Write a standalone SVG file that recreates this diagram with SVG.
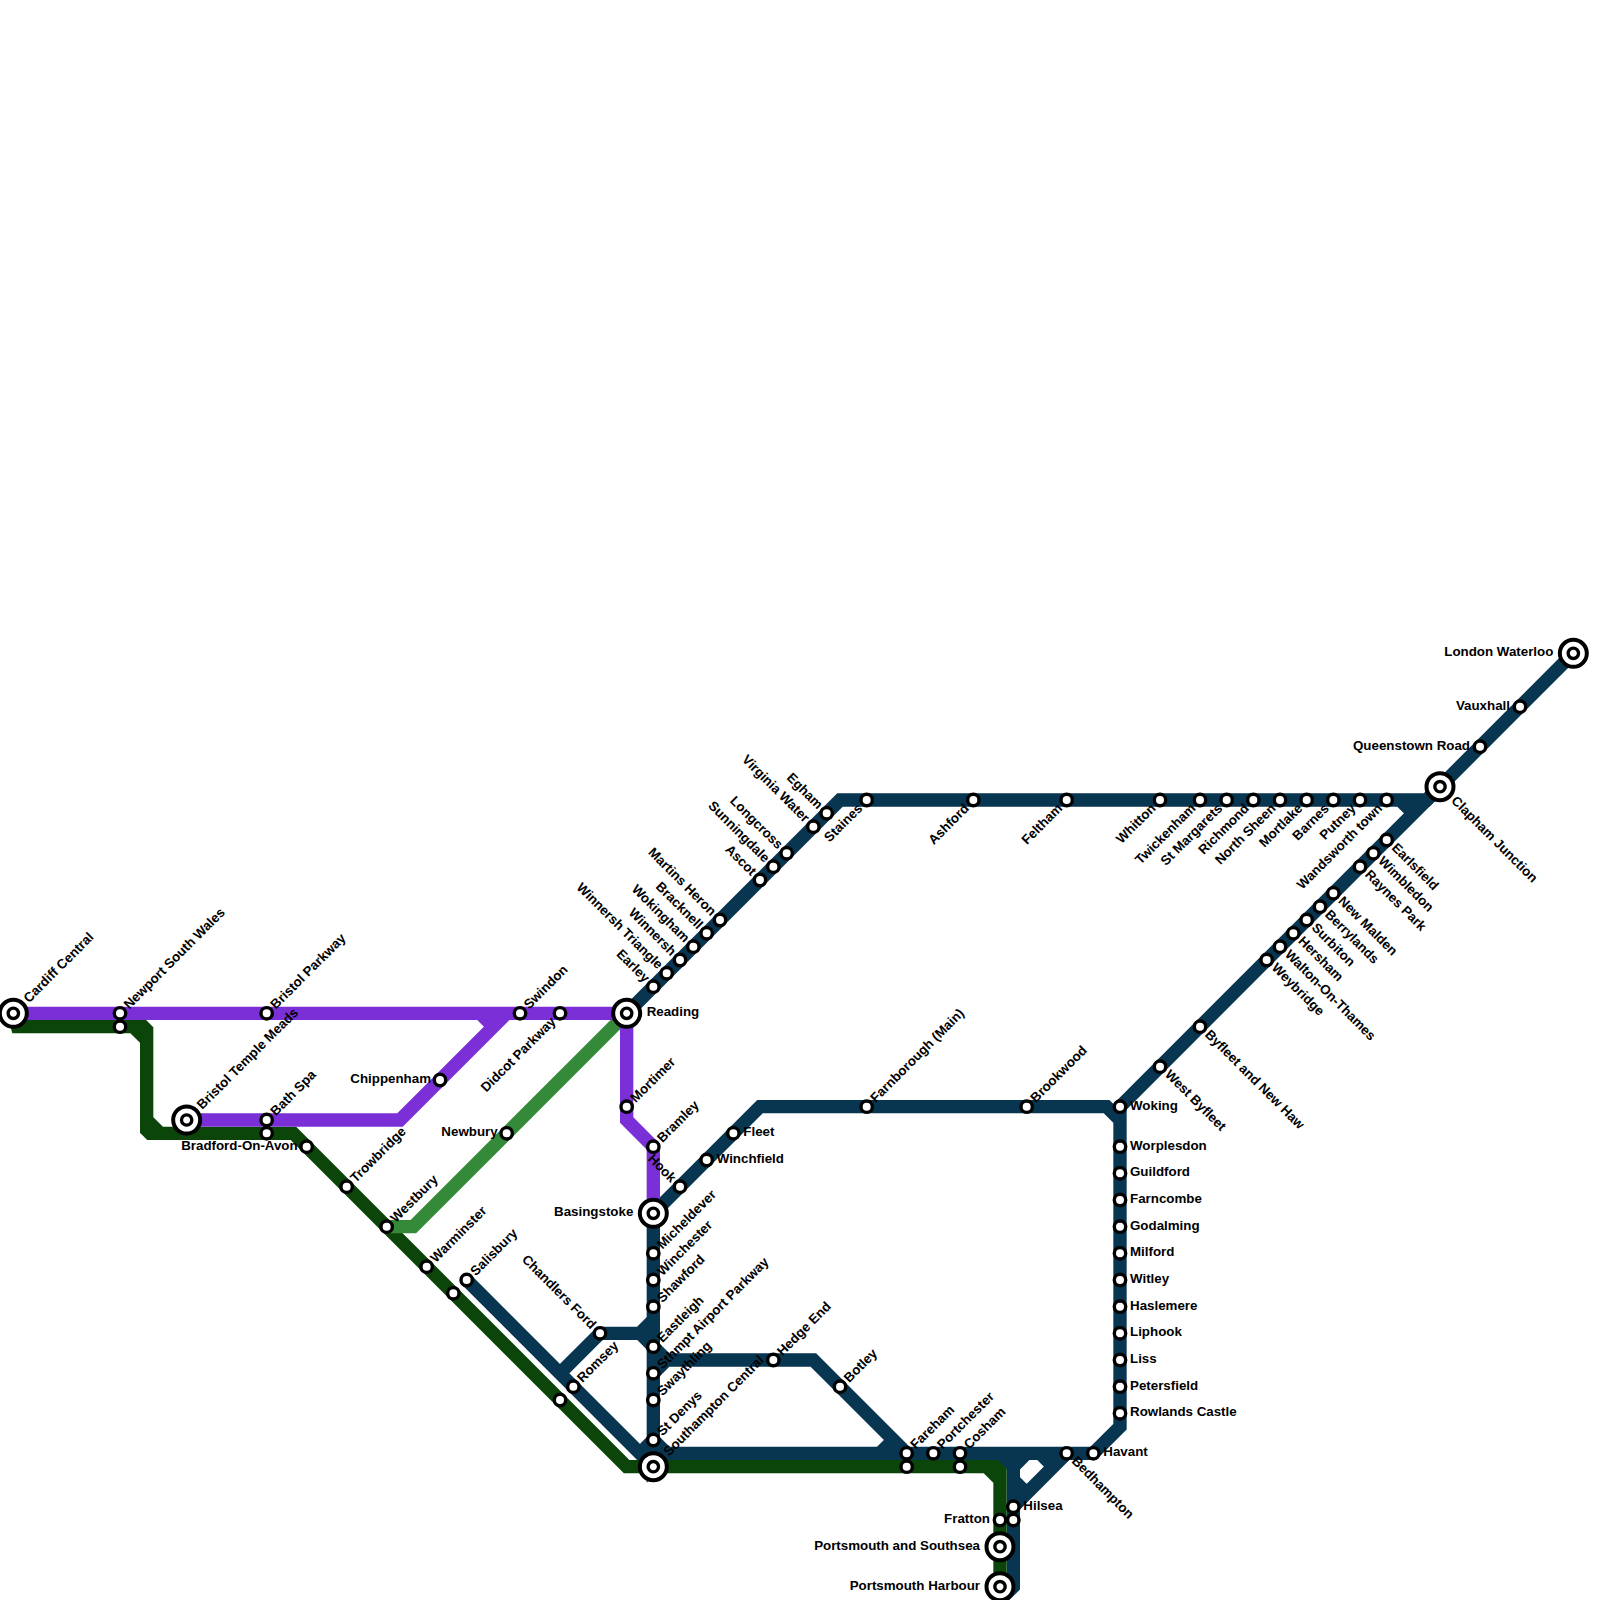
<svg xmlns="http://www.w3.org/2000/svg" width="1600" height="1600" viewBox="0 0 1600 1600">
<style>
.ln{fill:none;stroke-width:1;stroke-linejoin:miter;stroke-linecap:butt}
.navy{stroke:#08354f}.pur{stroke:#7b2fd6}.dg{stroke:#0b4509}.lg{stroke:#358a39}
.s{fill:#fff;stroke:#000;stroke-width:3.4}
.o{fill:#fff;stroke:#000;stroke-width:4}
.i{fill:#fff;stroke:#000;stroke-width:3.33}
text{font-family:"Liberation Sans",Arial,sans-serif;font-weight:bold;font-size:13.33px;fill:#000}
.e{text-anchor:end}
</style>
<defs>
<g id="st"><circle class="s" r="5.7"/></g>
<g id="ic"><circle class="o" r="13.5"/><circle class="i" r="5.2"/></g>
</defs>
<rect width="1600" height="1600" fill="#fff"/>
<g id="connectors" transform="scale(13.33333)">
<path class="ln navy" d="M118 49L84 83V107L82 109H50L49 110V91L57 83H83L84 84"/>
<path class="ln navy" d="M108 59L107 60H63L47 76M105 60L106 61"/>
<path class="ln navy" d="M35 96L49 110M42 103L45 100H48L49 99M48 100L49 101L50 102H61L68 109M49 103L50 102M48 109L49 108L50 109M66 109L67 108"/>
<path class="ln navy" d="M75 109L76 110V119L75 120M76 113L80 109M76 110L77 109M78 109L79 110M76 111L77 112"/>
<path class="ln dg" d="M1 76L1.3 77H10.75L11 77.25V84.75L11.25 85H22L47 110H74.64L75 110.36V119M10 77L11 78M11 84L12 85M74 110L75 111"/>
<path class="ln lg" d="M29 92H31L47 76"/>
<path class="ln pur" d="M1 76H47V84L49 86V91M14 84H30L38 76M36 76L37 77"/>
</g>
<g id="stations">
<g id="n01" transform="translate(13.33 1013.33)"><use href="#ic"/><text transform="rotate(-45)" x="18" y="4">Cardiff Central</text></g>
<g id="n02" transform="translate(120 1013.33)"><use href="#st"/><text transform="rotate(-45)" x="9" y="4">Newport South Wales</text></g>
<g id="n03" transform="translate(120 1026.67)"><use href="#st"/></g>
<g id="n04" transform="translate(266.67 1013.33)"><use href="#st"/><text transform="rotate(-45)" x="9" y="4">Bristol Parkway</text></g>
<g id="n05" transform="translate(186.67 1120)"><use href="#ic"/><text transform="rotate(-45)" x="18" y="4">Bristol Temple Meads</text></g>
<g id="n06" transform="translate(266.67 1120)"><use href="#st"/><text transform="rotate(-45)" x="9" y="4">Bath Spa</text></g>
<g id="n07" transform="translate(266.67 1133.33)"><use href="#st"/></g>
<g id="n08" transform="translate(306.67 1146.67)"><use href="#st"/><text class="e" x="-9" y="3">Bradford-On-Avon</text></g>
<g id="n09" transform="translate(346.67 1186.67)"><use href="#st"/><text transform="rotate(-45)" x="9" y="4">Trowbridge</text></g>
<g id="n10" transform="translate(386.67 1226.67)"><use href="#st"/><text transform="rotate(-45)" x="9" y="4">Westbury</text></g>
<g id="n11" transform="translate(426.67 1266.67)"><use href="#st"/><text transform="rotate(-45)" x="9" y="4">Warminster</text></g>
<g id="n12" transform="translate(453.33 1293.33)"><use href="#st"/></g>
<g id="n13" transform="translate(466.67 1280)"><use href="#st"/><text transform="rotate(-45)" x="9" y="4">Salisbury</text></g>
<g id="n14" transform="translate(440 1080)"><use href="#st"/><text class="e" x="-9" y="3">Chippenham</text></g>
<g id="n15" transform="translate(506.67 1133.33)"><use href="#st"/><text class="e" x="-9" y="3">Newbury</text></g>
<g id="n16" transform="translate(520 1013.33)"><use href="#st"/><text transform="rotate(-45)" x="9" y="4">Swindon</text></g>
<g id="n17" transform="translate(560 1013.33)"><use href="#st"/><text class="e" transform="rotate(-45)" x="-9" y="4">Didcot Parkway</text></g>
<g id="n18" transform="translate(626.67 1013.33)"><use href="#ic"/><text x="20" y="3">Reading</text></g>
<g id="n19" transform="translate(626.67 1106.67)"><use href="#st"/><text transform="rotate(-45)" x="9" y="4">Mortimer</text></g>
<g id="n20" transform="translate(653.33 1146.67)"><use href="#st"/><text transform="rotate(-45)" x="9" y="4">Bramley</text></g>
<g id="n21" transform="translate(680 1186.67)"><use href="#st"/><text class="e" transform="rotate(45)" x="-9" y="4">Hook</text></g>
<g id="n22" transform="translate(706.67 1160)"><use href="#st"/><text x="10" y="3">Winchfield</text></g>
<g id="n23" transform="translate(733.33 1133.33)"><use href="#st"/><text x="10" y="3">Fleet</text></g>
<g id="n24" transform="translate(653.33 1213.33)"><use href="#ic"/><text class="e" x="-20" y="3">Basingstoke</text></g>
<g id="n25" transform="translate(653.33 1253.33)"><use href="#st"/><text transform="rotate(-45)" x="9" y="4">Micheldever</text></g>
<g id="n26" transform="translate(653.33 1280)"><use href="#st"/><text transform="rotate(-45)" x="9" y="4">Winchester</text></g>
<g id="n27" transform="translate(653.33 1306.67)"><use href="#st"/><text transform="rotate(-45)" x="9" y="4">Shawford</text></g>
<g id="n28" transform="translate(653.33 1346.67)"><use href="#st"/><text transform="rotate(-45)" x="9" y="4">Eastleigh</text></g>
<g id="n29" transform="translate(653.33 1373.33)"><use href="#st"/><text transform="rotate(-45)" x="9" y="4">Sthmpt Airport Parkway</text></g>
<g id="n30" transform="translate(653.33 1400)"><use href="#st"/><text transform="rotate(-45)" x="9" y="4">Swaythling</text></g>
<g id="n31" transform="translate(653.33 1440)"><use href="#st"/><text transform="rotate(-45)" x="9" y="4">St Denys</text></g>
<g id="n32" transform="translate(653.33 1466.67)"><use href="#ic"/><text transform="rotate(-45)" x="18" y="4">Southampton Central</text></g>
<g id="n33" transform="translate(600 1333.33)"><use href="#st"/><text class="e" transform="rotate(45)" x="-9" y="4">Chandlers Ford</text></g>
<g id="n34" transform="translate(573.33 1386.67)"><use href="#st"/><text transform="rotate(-45)" x="9" y="4">Romsey</text></g>
<g id="n35" transform="translate(560 1400)"><use href="#st"/></g>
<g id="n36" transform="translate(773.33 1360)"><use href="#st"/><text transform="rotate(-45)" x="9" y="4">Hedge End</text></g>
<g id="n37" transform="translate(840 1386.67)"><use href="#st"/><text transform="rotate(-45)" x="9" y="4">Botley</text></g>
<g id="n38" transform="translate(906.67 1453.33)"><use href="#st"/><text transform="rotate(-45)" x="9" y="4">Fareham</text></g>
<g id="n39" transform="translate(906.67 1466.67)"><use href="#st"/></g>
<g id="n40" transform="translate(933.33 1453.33)"><use href="#st"/><text transform="rotate(-45)" x="9" y="4">Portchester</text></g>
<g id="n41" transform="translate(960 1453.33)"><use href="#st"/><text transform="rotate(-45)" x="9" y="4">Cosham</text></g>
<g id="n42" transform="translate(960 1466.67)"><use href="#st"/></g>
<g id="n43" transform="translate(1066.67 1453.33)"><use href="#st"/><text transform="rotate(45)" x="9" y="3">Bedhampton</text></g>
<g id="n44" transform="translate(1093.33 1453.33)"><use href="#st"/><text x="10" y="3">Havant</text></g>
<g id="n45" transform="translate(1013.33 1506.67)"><use href="#st"/><text x="10" y="3">Hilsea</text></g>
<g id="n46" transform="translate(1013.33 1520)"><use href="#st"/></g>
<g id="n47" transform="translate(1000 1520)"><use href="#st"/><text class="e" x="-10" y="3">Fratton</text></g>
<g id="n48" transform="translate(1000 1546.67)"><use href="#ic"/><text class="e" x="-20" y="3">Portsmouth and Southsea</text></g>
<g id="n49" transform="translate(1000 1586.67)"><use href="#ic"/><text class="e" x="-20" y="3">Portsmouth Harbour</text></g>
<g id="n50" transform="translate(1120 1413.33)"><use href="#st"/><text x="10" y="3">Rowlands Castle</text></g>
<g id="n51" transform="translate(1120 1386.67)"><use href="#st"/><text x="10" y="3">Petersfield</text></g>
<g id="n52" transform="translate(1120 1360)"><use href="#st"/><text x="10" y="3">Liss</text></g>
<g id="n53" transform="translate(1120 1333.33)"><use href="#st"/><text x="10" y="3">Liphook</text></g>
<g id="n54" transform="translate(1120 1306.67)"><use href="#st"/><text x="10" y="3">Haslemere</text></g>
<g id="n55" transform="translate(1120 1280)"><use href="#st"/><text x="10" y="3">Witley</text></g>
<g id="n56" transform="translate(1120 1253.33)"><use href="#st"/><text x="10" y="3">Milford</text></g>
<g id="n57" transform="translate(1120 1226.67)"><use href="#st"/><text x="10" y="3">Godalming</text></g>
<g id="n58" transform="translate(1120 1200)"><use href="#st"/><text x="10" y="3">Farncombe</text></g>
<g id="n59" transform="translate(1120 1173.33)"><use href="#st"/><text x="10" y="3">Guildford</text></g>
<g id="n60" transform="translate(1120 1146.67)"><use href="#st"/><text x="10" y="3">Worplesdon</text></g>
<g id="n61" transform="translate(1120 1106.67)"><use href="#st"/><text x="10" y="3">Woking</text></g>
<g id="n62" transform="translate(1026.67 1106.67)"><use href="#st"/><text transform="rotate(-45)" x="9" y="4">Brookwood</text></g>
<g id="n63" transform="translate(866.67 1106.67)"><use href="#st"/><text transform="rotate(-45)" x="9" y="4">Farnborough (Main)</text></g>
<g id="n64" transform="translate(1160 1066.67)"><use href="#st"/><text transform="rotate(45)" x="9" y="3">West Byfleet</text></g>
<g id="n65" transform="translate(1200 1026.67)"><use href="#st"/><text transform="rotate(45)" x="9" y="3">Byfleet and New Haw</text></g>
<g id="n66" transform="translate(1266.67 960)"><use href="#st"/><text transform="rotate(45)" x="9" y="3">Weybridge</text></g>
<g id="n67" transform="translate(1280 946.67)"><use href="#st"/><text transform="rotate(45)" x="9" y="3">Walton-On-Thames</text></g>
<g id="n68" transform="translate(1293.33 933.33)"><use href="#st"/><text transform="rotate(45)" x="9" y="3">Hersham</text></g>
<g id="n69" transform="translate(1306.67 920)"><use href="#st"/><text transform="rotate(45)" x="9" y="3">Surbiton</text></g>
<g id="n70" transform="translate(1320 906.67)"><use href="#st"/><text transform="rotate(45)" x="9" y="3">Berrylands</text></g>
<g id="n71" transform="translate(1333.33 893.33)"><use href="#st"/><text transform="rotate(45)" x="9" y="3">New Malden</text></g>
<g id="n72" transform="translate(1360 866.67)"><use href="#st"/><text transform="rotate(45)" x="9" y="3">Raynes Park</text></g>
<g id="n73" transform="translate(1373.33 853.33)"><use href="#st"/><text transform="rotate(45)" x="9" y="3">Wimbledon</text></g>
<g id="n74" transform="translate(1386.67 840)"><use href="#st"/><text transform="rotate(45)" x="9" y="3">Earlsfield</text></g>
<g id="n75" transform="translate(1440 786.67)"><use href="#ic"/><text transform="rotate(45)" x="18" y="3">Clapham Junction</text></g>
<g id="n76" transform="translate(1480 746.67)"><use href="#st"/><text class="e" x="-10" y="3">Queenstown Road</text></g>
<g id="n77" transform="translate(1520 706.67)"><use href="#st"/><text class="e" x="-10" y="3">Vauxhall</text></g>
<g id="n78" transform="translate(1573.33 653.33)"><use href="#ic"/><text class="e" x="-20" y="3">London Waterloo</text></g>
<g id="n79" transform="translate(1386.67 800)"><use href="#st"/><text class="e" transform="rotate(-45)" x="-9" y="4">Wandsworth town</text></g>
<g id="n80" transform="translate(1360 800)"><use href="#st"/><text class="e" transform="rotate(-45)" x="-9" y="4">Putney</text></g>
<g id="n81" transform="translate(1333.33 800)"><use href="#st"/><text class="e" transform="rotate(-45)" x="-9" y="4">Barnes</text></g>
<g id="n82" transform="translate(1306.67 800)"><use href="#st"/><text class="e" transform="rotate(-45)" x="-9" y="4">Mortlake</text></g>
<g id="n83" transform="translate(1280 800)"><use href="#st"/><text class="e" transform="rotate(-45)" x="-9" y="4">North Sheen</text></g>
<g id="n84" transform="translate(1253.33 800)"><use href="#st"/><text class="e" transform="rotate(-45)" x="-9" y="4">Richmond</text></g>
<g id="n85" transform="translate(1226.67 800)"><use href="#st"/><text class="e" transform="rotate(-45)" x="-9" y="4">St Margarets</text></g>
<g id="n86" transform="translate(1200 800)"><use href="#st"/><text class="e" transform="rotate(-45)" x="-9" y="4">Twickenham</text></g>
<g id="n87" transform="translate(1160 800)"><use href="#st"/><text class="e" transform="rotate(-45)" x="-9" y="4">Whitton</text></g>
<g id="n88" transform="translate(1066.67 800)"><use href="#st"/><text class="e" transform="rotate(-45)" x="-9" y="4">Feltham</text></g>
<g id="n89" transform="translate(973.33 800)"><use href="#st"/><text class="e" transform="rotate(-45)" x="-9" y="4">Ashford</text></g>
<g id="n90" transform="translate(866.67 800)"><use href="#st"/><text class="e" transform="rotate(-45)" x="-9" y="4">Staines</text></g>
<g id="n91" transform="translate(826.67 813.33)"><use href="#st"/><text class="e" transform="rotate(45)" x="-9" y="4">Egham</text></g>
<g id="n92" transform="translate(813.33 826.67)"><use href="#st"/><text class="e" transform="rotate(45)" x="-9" y="4">Virginia Water</text></g>
<g id="n93" transform="translate(786.67 853.33)"><use href="#st"/><text class="e" transform="rotate(45)" x="-9" y="4">Longcross</text></g>
<g id="n94" transform="translate(773.33 866.67)"><use href="#st"/><text class="e" transform="rotate(45)" x="-9" y="4">Sunningdale</text></g>
<g id="n95" transform="translate(760 880)"><use href="#st"/><text class="e" transform="rotate(45)" x="-9" y="4">Ascot</text></g>
<g id="n96" transform="translate(720 920)"><use href="#st"/><text class="e" transform="rotate(45)" x="-9" y="4">Martins Heron</text></g>
<g id="n97" transform="translate(706.67 933.33)"><use href="#st"/><text class="e" transform="rotate(45)" x="-9" y="4">Bracknell</text></g>
<g id="n98" transform="translate(693.33 946.67)"><use href="#st"/><text class="e" transform="rotate(45)" x="-9" y="4">Wokingham</text></g>
<g id="n99" transform="translate(680 960)"><use href="#st"/><text class="e" transform="rotate(45)" x="-9" y="4">Winnersh</text></g>
<g id="n100" transform="translate(666.67 973.33)"><use href="#st"/><text class="e" transform="rotate(45)" x="-9" y="4">Winnersh Triangle</text></g>
<g id="n101" transform="translate(653.33 986.67)"><use href="#st"/><text class="e" transform="rotate(45)" x="-9" y="4">Earley</text></g>
</g>
</svg>
